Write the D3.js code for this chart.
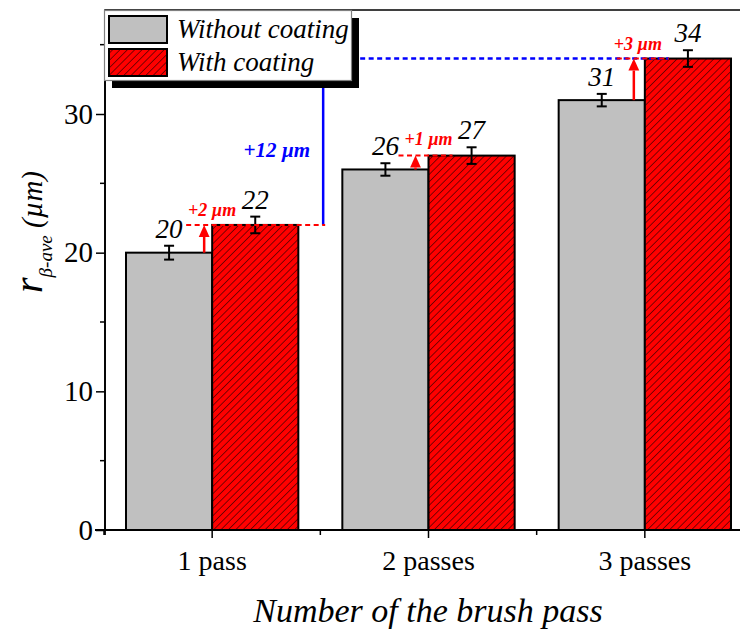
<!DOCTYPE html>
<html>
<head>
<meta charset="utf-8">
<script src="https://cdn.jsdelivr.net/npm/d3@7"></script>
<style>
  html, body { margin: 0; padding: 0; background: #fff; }
  svg { display: block; }
  text { font-family: "Liberation Serif", "Times New Roman", serif; }
</style>
</head>
<body>
<svg id="chart" width="740" height="630"></svg>
<script>
// ---------- data ----------
const categories = ["1 pass", "2 passes", "3 passes"];
const seriesNames = ["Without coating", "With coating"];
const withoutCoating = [20, 26, 31];
const withCoating = [22, 27, 34];
const errWithout = [0.5, 0.45, 0.45];
const errWith = [0.6, 0.6, 0.6];
const yTicks = [0, 10, 20, 30];
const yMinorTicks = [5, 15, 25, 35];
const diffLabels = ["+2 \u00b5m", "+1 \u00b5m", "+3 \u00b5m"];
const totalDiffLabel = "+12 \u00b5m";
const xTitle = "Number of the brush pass";

// ---------- layout ----------
const svg = d3.select("#chart");
const plot = { left: 105, right: 753, top: 10, bottom: 530 };

const x = d3.scaleBand().domain(categories).range([plot.left - 1, plot.right]).paddingInner(0).paddingOuter(0);
const xs = d3.scaleBand().domain(seriesNames).range([22, x.bandwidth() - 22]).padding(0);
const y = d3.scaleLinear().domain([0, 37.5]).range([plot.bottom, plot.top]);

const defs = svg.append("defs");
const hs = 5.2;
const pat = defs.append("pattern").attr("id", "hatch").attr("patternUnits", "userSpaceOnUse")
  .attr("width", hs).attr("height", hs).attr("patternTransform", "rotate(45)");
pat.append("rect").attr("width", hs).attr("height", hs).attr("fill", "#ff0000");
pat.append("line").attr("x1", 0).attr("y1", 0).attr("x2", 0).attr("y2", hs).attr("stroke", "#000").attr("stroke-width", 1);

const fills = ["#c0c0c0", "url(#hatch)"];

// frame (top line + right, mostly off page)
svg.append("rect").attr("x", plot.left).attr("y", plot.top)
  .attr("width", plot.right - plot.left).attr("height", plot.bottom - plot.top)
  .attr("fill", "none").attr("stroke", "#000").attr("stroke-width", 1.5);

// ---------- bars ----------
const rows = categories.map((c, i) => ({ c, i, vals: [withoutCoating[i], withCoating[i]], errs: [errWithout[i], errWith[i]] }));
const g = svg.append("g");
rows.forEach(r => {
  seriesNames.forEach((s, k) => {
    const x0 = x(r.c) + xs(s);
    g.append("rect").attr("x", x0).attr("y", y(r.vals[k]))
      .attr("width", xs.bandwidth()).attr("height", y(0) - y(r.vals[k]))
      .attr("fill", fills[k]).attr("stroke", "#000").attr("stroke-width", 2);
  });
});

// error bars
rows.forEach(r => {
  seriesNames.forEach((s, k) => {
    const cx = x(r.c) + xs(s) + xs.bandwidth() / 2;
    const v = r.vals[k], e = r.errs[k];
    const eg = g.append("g").attr("stroke", "#000").attr("stroke-width", 2);
    eg.append("line").attr("x1", cx).attr("x2", cx).attr("y1", y(v - e)).attr("y2", y(v + e));
    eg.append("line").attr("x1", cx - 5).attr("x2", cx + 5).attr("y1", y(v - e)).attr("y2", y(v - e));
    eg.append("line").attr("x1", cx - 5).attr("x2", cx + 5).attr("y1", y(v + e)).attr("y2", y(v + e));
    g.append("text").attr("x", cx).attr("y", y(v + e) - 8)
      .attr("text-anchor", "middle").attr("font-size", 27).attr("font-style", "italic")
      .text(v);
  });
});

// ---------- axes ----------
const yAxis = svg.append("g").attr("transform", `translate(${plot.left},0)`)
  .call(d3.axisLeft(y).tickValues(yTicks).tickSize(9).tickPadding(3).tickFormat(d3.format("d")));
yAxis.select(".domain").attr("stroke-width", 1.8).attr("d", `M0,${plot.bottom + 5}V${plot.top}`);
yAxis.selectAll(".tick line").attr("stroke-width", 1.5);
yAxis.selectAll(".tick text").attr("font-size", 29).attr("font-family", "Liberation Serif").attr("fill", "#000");
yMinorTicks.forEach(t => {
  yAxis.append("line").attr("x1", -5).attr("x2", 0).attr("y1", y(t)).attr("y2", y(t)).attr("stroke", "#000").attr("stroke-width", 1.5);
});

const xAxis = svg.append("g").attr("transform", `translate(0,${plot.bottom})`)
  .call(d3.axisBottom(x).tickSize(8).tickPadding(12));
xAxis.select(".domain").attr("stroke-width", 1.8).attr("d", `M${plot.left - 10},0H${plot.right}`);
xAxis.selectAll(".tick line").attr("stroke-width", 1.5);
xAxis.selectAll(".tick text").attr("font-size", 28).attr("font-family", "Liberation Serif").attr("fill", "#000");
categories.forEach(c => {
  xAxis.append("line").attr("x1", x(c)).attr("x2", x(c)).attr("y1", 0).attr("y2", 5).attr("stroke", "#000").attr("stroke-width", 1.5);
});

// axis titles
svg.append("text").attr("x", 428).attr("y", 622).attr("text-anchor", "middle")
  .attr("font-size", 34).attr("font-style", "italic").text(xTitle);

const yl = svg.append("text").attr("transform", "translate(42,232) rotate(-90)")
  .attr("text-anchor", "middle").attr("font-style", "italic");
yl.append("tspan").attr("font-size", 40).text("r");
yl.append("tspan").attr("font-size", 19).attr("dy", 10).text("\u03b2-ave");
yl.append("tspan").attr("font-size", 29).attr("dy", -10).text("\u00a0(\u00b5m)");

// ---------- annotations ----------
const grayRight = i => x(categories[i]) + xs(seriesNames[1]);
const ann = svg.append("g");
function arrow(parent, x0, yFrom, yTo, color, w, head) {
  parent.append("line").attr("x1", x0).attr("x2", x0).attr("y1", yFrom).attr("y2", yTo + head)
    .attr("stroke", color).attr("stroke-width", w);
  parent.append("path").attr("d", `M${x0},${yTo}L${x0 - head * 0.45},${yTo + head}L${x0 + head * 0.45},${yTo + head}Z`)
    .attr("fill", color);
}
function dashed(parent, x1, x2, yy, color, w) {
  parent.append("line").attr("x1", x1).attr("x2", x2).attr("y1", yy).attr("y2", yy)
    .attr("stroke", color).attr("stroke-width", w).attr("stroke-dasharray", "5,3.5");
}
// blue total
const blueX = grayRight(0) + 111;
dashed(ann, blueX - 14, grayRight(2) + 24, y(withCoating[2]), "#0000ff", 2.5);
arrow(ann, blueX, y(withCoating[0]), y(withCoating[2]) , "#0000ff", 2.5, 13);
ann.append("text").attr("x", blueX - 13).attr("y", 157).attr("text-anchor", "end")
  .attr("font-size", 21).attr("font-weight", "bold").attr("font-style", "italic").attr("fill", "#0000ff")
  .text(totalDiffLabel);

// red diffs
const redDash = [[grayRight(0) - 26, blueX + 2], [grayRight(1) - 30, grayRight(1) + 24], [grayRight(2) - 28, grayRight(2) + 24]];
const arrowOff = [8, 13, 11];
const labelOff = [0, 0, -7];
const labelY = [216, 145, 50];
categories.forEach((c, i) => {
  dashed(ann, redDash[i][0], redDash[i][1], y(withCoating[i]), "#ff0000", 2);
  arrow(ann, grayRight(i) - arrowOff[i], y(withoutCoating[i]), y(withCoating[i]), "#ff0000", 2.5, 12);
  ann.append("text").attr("x", grayRight(i) + labelOff[i]).attr("y", labelY[i]).attr("text-anchor", "middle")
    .attr("font-size", 18).attr("font-weight", "bold").attr("font-style", "italic").attr("fill", "#ff0000")
    .text(diffLabels[i]);
});

// ---------- legend ----------
const lg = svg.append("g");
lg.append("rect").attr("x", 112).attr("y", 18).attr("width", 247).attr("height", 70).attr("fill", "#000");
lg.append("rect").attr("x", 104.5).attr("y", 10.5).attr("width", 247).attr("height", 70)
  .attr("fill", "#fff").attr("stroke", "#808080").attr("stroke-width", 1.2);
seriesNames.forEach((s, k) => {
  lg.append("rect").attr("x", 109).attr("y", 16 + k * 33).attr("width", 58).attr("height", 27)
    .attr("fill", fills[k]).attr("stroke", "#000").attr("stroke-width", 2);
  lg.append("text").attr("x", 177).attr("y", 38 + k * 33).attr("font-size", 27).attr("font-style", "italic").text(s);
});
</script>
</body>
</html>
